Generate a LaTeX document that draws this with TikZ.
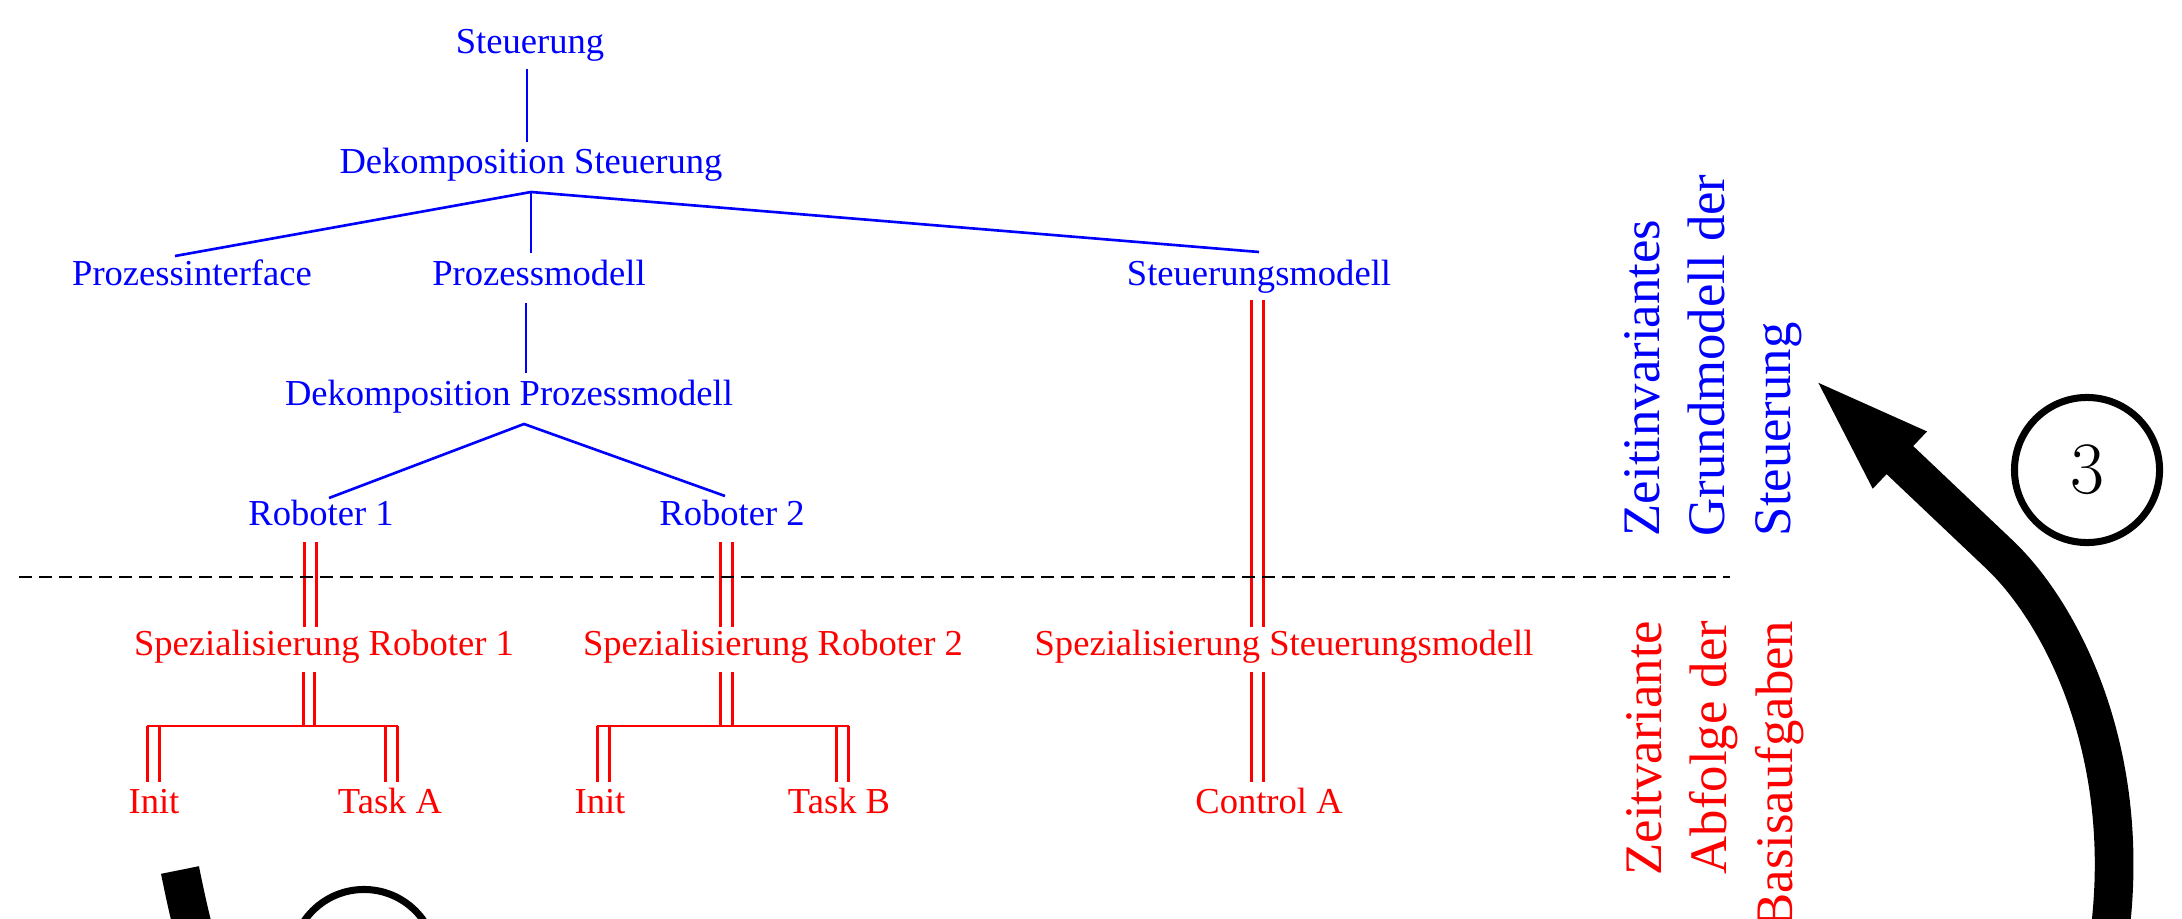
\documentclass[tikz,border=0pt]{standalone}
\usepackage{fontspec}
\newfontfamily\libf{Liberation Serif}
\usetikzlibrary{arrows.meta,calc}
\begin{document}
\begin{tikzpicture}[x=0.01cm,y=-0.01cm,
  tn/.style={anchor=base, inner sep=0pt, font=\libf\fontsize{10.4}{12.5}\selectfont},
  bt/.style={tn, text=blue},
  rt/.style={tn, text=red},
  bl/.style={draw=blue, line width=0.75pt},
  rl/.style={draw=red, line width=0.75pt},
  rd/.style={draw=red, line width=0.75pt, double=white, double distance=2.5pt},
  dashline/.style={draw=black, line width=0.75pt, dash pattern=on 3.7pt off 2pt},
  side/.style={rotate=90, inner sep=0pt, font=\libf\fontsize{15}{18.6}\selectfont},
  ring/.style={circle, draw=black, line width=2pt, minimum size=1.45cm, inner sep=0pt},
  fat/.style={draw=black, line width=11pt}
]
\useasboundingbox (0,0) rectangle (2182,918);
\clip (0,0) rectangle (2182,918);

% tree nodes
\node[bt] (st)  at (530,53)   {Steuerung};
\node[bt] (dst) at (531,173)  {Dekomposition Steuerung};
\node[bt] (pi)  at (192,285)  {Prozessinterface};
\node[bt] (pm)  at (539,285)  {Prozessmodell};
\node[bt] (sm)  at (1259,285) {Steuerungsmodell};
\node[bt] (dpm) at (509,405)  {Dekomposition Prozessmodell};
\node[bt] (r1)  at (321,525)  {Roboter 1};
\node[bt] (r2)  at (732,525)  {Roboter 2};
\node[rt] (s1)  at (324,655)  {Spezialisierung Roboter 1};
\node[rt] (s2)  at (773,655)  {Spezialisierung Roboter 2};
\node[rt] (ss)  at (1284,655) {Spezialisierung Steuerungsmodell};
\node[rt] (i1)  at (154,813)  {Init};
\node[rt] (ta)  at (390,813)  {Task A};
\node[rt] (i2)  at (600,813)  {Init};
\node[rt] (tb)  at (839,813)  {Task B};
\node[rt] (ca)  at (1269,813) {Control A};

% blue connectors
\draw[bl] ($(st.base)+(-3,16)$) -- ($(dst.base)+(-4,-31)$);
\coordinate (a1) at ($(dst.base)+(0,19)$);
\draw[bl] ($(pi.base)+(-17,-29)$) -- (a1) -- ($(sm.base)+(0,-33)$);
\draw[bl] (a1) -- ($(pm.base)+(-8,-32)$);
\draw[bl] ($(pm.base)+(-13,18)$) -- ($(dpm.base)+(17,-32)$);
\coordinate (a2) at ($(dpm.base)+(15,19)$);
\draw[bl] ($(r1.base)+(8,-27)$) -- (a2) -- ($(r2.base)+(-7,-29)$);

% red double connectors
\draw[rd] ($(r1.base)+(-10.5,17)$) -- ($(s1.base)+(-13.5,-28)$);
\draw[rd] ($(r2.base)+(-5.5,17)$) -- ($(s2.base)+(-46.5,-28)$);
\draw[rd] ($(sm.base)+(-1.5,15)$) -- ($(ss.base)+(-26.5,-28)$);
\draw[rd] ($(s1.base)+(-15,17)$) -- ($(s1.base)+(-15,71)$);
\draw[rd] ($(s2.base)+(-46.5,17)$) -- ($(s2.base)+(-46.5,71)$);
\draw[rd] ($(ss.base)+(-26.5,17)$) -- ($(ca.base)+(-11.5,-31)$);
\draw[rd] ($(i1.base)+(-0.5,-87)$) -- ($(i1.base)+(-0.5,-31)$);
\draw[rd] ($(ta.base)+(1.5,-87)$) -- ($(ta.base)+(1.5,-31)$);
\draw[rd] ($(i2.base)+(3.5,-87)$) -- ($(i2.base)+(3.5,-31)$);
\draw[rd] ($(tb.base)+(3.5,-87)$) -- ($(tb.base)+(3.5,-31)$);
\draw[rl] ($(i1.base)+(-7,-87)$) -- ($(ta.base)+(8,-87)$);
\draw[rl] ($(i2.base)+(-3,-87)$) -- ($(tb.base)+(10,-87)$);

% dashed separator
\coordinate (dl) at (19,577);
\coordinate (dr) at (1730,577);
\draw[dashline] (dl) -- (dr);

% side labels
\node[side, anchor=west, align=left, text=blue] (zi) at (1713,537)
  {Zeitinvariantes\\Grundmodell der\\Steuerung};
\node[side, anchor=east, align=right, text=red] (zv) at (1715,620)
  {Zeitvariante\\Abfolge der\\Basisaufgaben};

% circles
\node[ring, font=\fontsize{21}{25}\selectfont] (c3) at (2087,470) {3};
\node[ring] (c2) at (364,962) {};

% thick arrows
\coordinate (a3s) at (2095,1010);
\coordinate (a3t) at (1808,373);
\draw[fat, -{Triangle[length=36pt,width=19pt]}] (a3s) .. controls (2152,790) and (2070,622) .. (2000,555) -- (a3t);
\coordinate (a2s) at (180,870);
\coordinate (a2e) at (218,1010);
\draw[fat] (a2s) .. controls (190,920) and (200,960) .. (a2e);
\end{tikzpicture}
\end{document}
